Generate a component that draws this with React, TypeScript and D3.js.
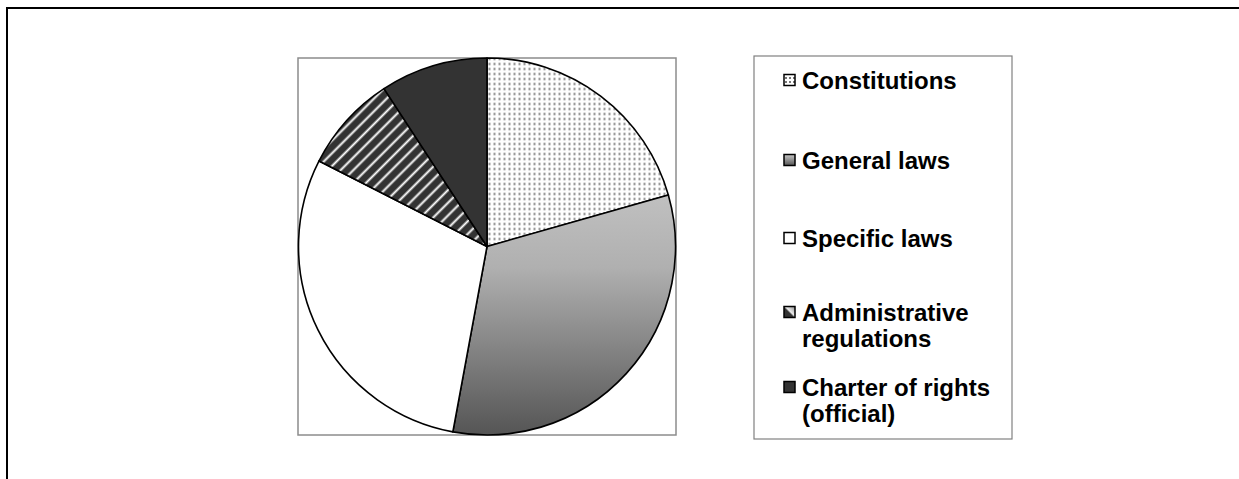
import React from "react";
import * as d3 from "d3";

const categories = [
  "Constitutions",
  "General laws",
  "Specific laws",
  "Administrative regulations",
  "Charter of rights (official)",
];
const values = [20.6, 32.3, 29.6, 8.3, 9.2];
const legendLines = [
  ["Constitutions"],
  ["General laws"],
  ["Specific laws"],
  ["Administrative", "regulations"],
  ["Charter of rights", "(official)"],
];
const fills = ["url(#dots)", "url(#grad)", "#ffffff", "url(#stripes)", "#333333"];
const markerFills = ["url(#mdots)", "url(#mgrad)", "#ffffff", "url(#mdiag)", "#333333"];

const W = 1239;
const H = 479;
// layout: centre of the first text line of each legend row
const legendRowY = [80, 160, 238, 312, 387];

export default function App() {
  const cx = 487;
  const cy = 246.5;
  const r = 188.5;
  const pie = d3.pie<number>().sort(null).value((d) => d)(values);
  const arc = d3.arc<d3.PieArcDatum<number>>().innerRadius(0).outerRadius(r);

  const legendX = 754;
  const legendY = 56;
  const legendW = 258;
  const legendH = 383;
  const fontSize = 24;
  const lineH = 26;

  return (
    <svg
      width={W}
      height={H}
      style={{ position: "absolute", left: 0, top: 0, background: "#fff" }}
      fontFamily="'Liberation Sans', Arial, sans-serif"
    >
      <defs>
        <pattern id="dots" patternUnits="userSpaceOnUse" width={5} height={5}>
          <rect width={5} height={5} fill="#fff" />
          <rect x={1.5} y={1.5} width={2} height={2} fill="#7a7a7a" />
        </pattern>
        <linearGradient id="grad" x1="0" y1="0" x2="0" y2="1">
          <stop offset="0" stopColor="#c0c0c0" />
          <stop offset="0.3" stopColor="#b0b0b0" />
          <stop offset="1" stopColor="#555555" />
        </linearGradient>
        <linearGradient id="stripeG" x1="0" y1="0" x2="1" y2="0">
          <stop offset="0" stopColor="#333" />
          <stop offset="0.28" stopColor="#333" />
          <stop offset="0.5" stopColor="#fff" />
          <stop offset="0.72" stopColor="#333" />
          <stop offset="1" stopColor="#333" />
        </linearGradient>
        <pattern
          id="stripes"
          patternUnits="userSpaceOnUse"
          width={9}
          height={9}
          patternTransform="rotate(45)"
        >
          <rect width={9} height={9} fill="url(#stripeG)" />
        </pattern>
        <pattern id="mdots" patternUnits="userSpaceOnUse" width={4} height={4}>
          <rect width={4} height={4} fill="#fff" />
          <rect x={1} y={1} width={2} height={2} fill="#777" />
        </pattern>
        <linearGradient id="mgrad" x1="0" y1="0" x2="0" y2="1">
          <stop offset="0" stopColor="#c8c8c8" />
          <stop offset="1" stopColor="#555" />
        </linearGradient>
        <linearGradient id="mdiag" x1="0" y1="1" x2="1" y2="0">
          <stop offset="0" stopColor="#333" />
          <stop offset="0.45" stopColor="#333" />
          <stop offset="0.55" stopColor="#eee" />
          <stop offset="1" stopColor="#888" />
        </linearGradient>
      </defs>

      <path d={`M7,${H} V8 H${W}`} fill="none" stroke="#000" strokeWidth={2} />

      <rect x={298} y={58} width={378} height={377} fill="#fff" stroke="#8c8c8c" strokeWidth={1.5} />

      <g transform={`translate(${cx},${cy})`}>
        {pie.map((p, i) => (
          <path
            key={categories[i]}
            d={arc(p) || ""}
            fill={fills[i]}
            stroke="#000"
            strokeWidth={1.6}
            strokeLinejoin="round"
          />
        ))}
      </g>

      <rect
        x={legendX}
        y={legendY}
        width={legendW}
        height={legendH}
        fill="#fff"
        stroke="#808080"
        strokeWidth={1.2}
      />
      {categories.map((c, i) => {
        const y = legendRowY[i];
        return (
          <g key={c}>
            <rect x={784} y={y - 5.5} width={11} height={11} fill={markerFills[i]} stroke="#000" strokeWidth={1.5} />
            <text x={802} y={y + 8.5} fontSize={fontSize} fontWeight="bold" fill="#000">
              {legendLines[i].map((l, j) => (
                <tspan key={j} x={802} dy={j === 0 ? 0 : lineH}>
                  {l}
                </tspan>
              ))}
            </text>
          </g>
        );
      })}
    </svg>
  );
}
